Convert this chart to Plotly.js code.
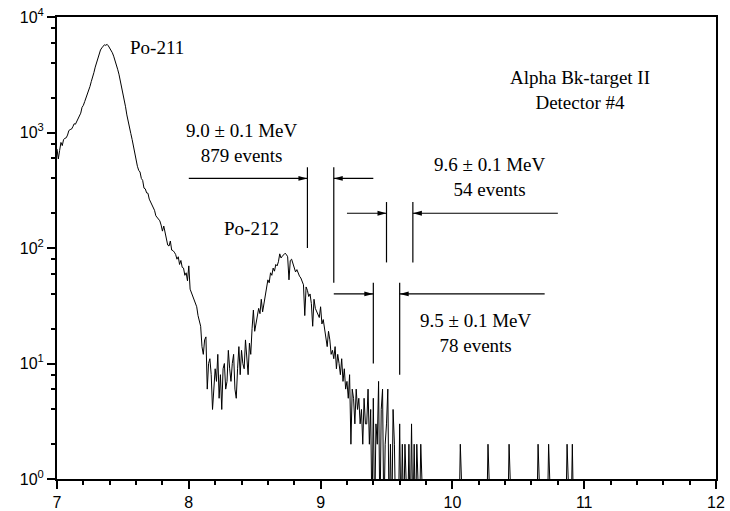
<!DOCTYPE html>
<html>
<head>
<meta charset="utf-8">
<script src="https://cdn.plot.ly/plotly-3.0.1.min.js"></script>
<style>html,body{margin:0;padding:0;background:#fff;}#chart{width:730px;height:511px;}</style>
</head>
<body>
<div id="chart"></div>
<script>
// Histogram: counts per 0.01 MeV bin, first bin at 7.00 MeV
const binStart = 7.00;
const binWidth = 0.01;
const mainCounts = [
  720, 590, 700, 820, 770, 870, 890, 900, 950, 1040,
  1060, 1070, 1120, 1190, 1180, 1250, 1290, 1400, 1470, 1650,
  1720, 1850, 1990, 2120, 2330, 2500, 2760, 2990, 3300, 3680,
  4050, 4430, 4800, 5180, 5400, 5620, 5750, 5680, 5800, 5620,
  5400, 5200, 4900, 4580, 4240, 3900, 3530, 3200, 2840, 2500,
  2180, 1900, 1670, 1420, 1220, 1080, 980, 870, 760, 660,
  560, 510, 470, 455, 400, 385, 330, 325, 300, 298,
  265, 250, 236, 222, 212, 190, 184, 175, 172, 158,
  140, 155, 133, 122, 106, 104, 115, 96, 95, 92,
  88, 80, 84, 72, 78, 68, 67, 58, 61, 52,
  70, 44, 41, 38, 35, 33, 31, 26, 23, 21,
  14, 12, 16, 17, 6, 10, 11, 8, 4, 6,
  9, 7, 12, 5, 8, 4, 9, 10, 6, 7,
  13, 9, 7, 10, 12, 6, 5, 9, 14, 8,
  13, 10, 9, 16, 11, 8, 15, 12, 20, 29,
  19, 22, 25, 30, 27, 36, 28, 33, 40, 45,
  53, 50, 61, 58, 67, 63, 72, 70, 76, 89,
  82, 85, 87, 90, 88, 84, 53, 78, 80, 74,
  70, 62, 65, 60, 57, 55, 50, 48, 26, 46,
  43, 38, 40, 33, 21, 36, 30, 28, 27, 25,
  31, 22, 24, 20, 17, 14, 19, 16, 12, 13,
  11, 14, 9, 12, 10, 8, 11, 7, 9, 6,
  7, 5, 8, 2, 6, 5, 3, 6, 4, 5,
  3, 4, 2, 5, 3, 3, 6, 2, 4, 0,
  5, 0, 3, 2, 7, 0, 4, 6, 0, 2,
  3, 6, 0, 2, 0, 4, 2, 0, 1, 0,
  3, 0, 2, 0, 2, 1, 0, 2, 0, 3,
  0, 2, 0, 2, 0, 0, 2, 0, 0, 0
];
// sparse high-energy events (bin energy in MeV, counts)
const tailEnergies = [10.06, 10.27, 10.43, 10.65, 10.73, 10.87, 10.91];
const tailCounts = [2, 2, 2, 2, 2, 2, 2];
const lastBinEnergy = 11.00;

const xTickVals = [7, 8, 9, 10, 11, 12];
const yTickVals = [1, 10, 100, 1000, 10000];
const yTickText = ['10<sup>0</sup>', '10<sup>1</sup>', '10<sup>2</sup>', '10<sup>3</sup>', '10<sup>4</sup>'];
const yMinorVals = [];
[1, 10, 100, 1000].forEach(d => [2, 4, 6, 8].forEach(m => yMinorVals.push(d * m)));

// assemble full histogram (empty bins are zero)
const nBins = Math.round((lastBinEnergy - binStart) / binWidth) + 1;
const counts = new Array(nBins).fill(0);
mainCounts.forEach((c, i) => counts[i] = c);
tailEnergies.forEach((e, k) => { counts[Math.round((e - binStart) / binWidth)] = tailCounts[k]; });
// zero-count bins drop below the 10^0 floor of the log axis
const displayCounts = counts.map(c => c > 0 ? c : 0.4);

const serif = '"Liberation Serif", "Times New Roman", serif';
const sans = '"Liberation Sans", Arial, sans-serif';

// energy window brackets
const brackets = [
  {left: 8.9, right: 9.1, yTopL: 500, yBotL: 100, yTopR: 500, yBotR: 50, arrowY: 400, fromL: 8.0, fromR: 9.4},
  {left: 9.5, right: 9.7, yTopL: 250, yBotL: 75, yTopR: 250, yBotR: 75, arrowY: 200, fromL: 9.2, fromR: 10.8},
  {left: 9.4, right: 9.6, yTopL: 50, yBotL: 10, yTopR: 50, yBotR: 8, arrowY: 40, fromL: 9.1, fromR: 10.7}
];

const shapes = [];
const lineStyle = {color: '#000', width: 1.2};
brackets.forEach(b => {
  shapes.push({type: 'line', xref: 'x', yref: 'y', x0: b.left, x1: b.left, y0: b.yBotL, y1: b.yTopL, line: lineStyle});
  shapes.push({type: 'line', xref: 'x', yref: 'y', x0: b.right, x1: b.right, y0: b.yBotR, y1: b.yTopR, line: lineStyle});
  shapes.push({type: 'line', xref: 'x', yref: 'y', x0: b.fromL, x1: b.left, y0: b.arrowY, y1: b.arrowY, line: lineStyle});
  shapes.push({type: 'line', xref: 'x', yref: 'y', x0: b.right, x1: b.fromR, y0: b.arrowY, y1: b.arrowY, line: lineStyle});
  shapes.push({type: 'path', xref: 'x', yref: 'y', xsizemode: 'pixel', ysizemode: 'pixel',
    xanchor: b.left, yanchor: b.arrowY, path: 'M0,0 L-9,2.4 L-9,-2.4 Z', fillcolor: '#000', line: {width: 0}});
  shapes.push({type: 'path', xref: 'x', yref: 'y', xsizemode: 'pixel', ysizemode: 'pixel',
    xanchor: b.right, yanchor: b.arrowY, path: 'M0,0 L9,2.4 L9,-2.4 Z', fillcolor: '#000', line: {width: 0}});
});

const txt = (text, x, logy) => ({text, x, y: logy, xref: 'x', yref: 'y', showarrow: false,
  font: {family: serif, size: 19, color: '#000'}, xanchor: 'center', yanchor: 'middle'});
const annotations = [
  txt('Po-211', 7.759, 3.735),
  txt('Po-212', 8.472, 2.167),
  txt('9.0 ± 0.1 MeV<br>879 events', 8.407, 2.913),
  txt('9.6 ± 0.1 MeV<br>54 events', 10.285, 2.615),
  txt('9.5 ± 0.1 MeV<br>78 events', 10.18, 1.265),
  txt('Alpha Bk-target II<br>Detector #4', 10.968, 3.368)
];

const trace = {
  type: 'scatter', mode: 'lines',
  x0: binStart, dx: binWidth, y: displayCounts,
  line: {color: '#000', width: 1},
  hoverinfo: 'skip'
};

const layout = {
  width: 730, height: 511,
  margin: {l: 57, r: 14, t: 17, b: 32},
  paper_bgcolor: '#fff', plot_bgcolor: '#fff',
  showlegend: false,
  xaxis: {
    range: [7, 12], tickmode: 'array', tickvals: xTickVals,
    ticks: 'outside', ticklen: 8, tickwidth: 2, tickcolor: '#000',
    showline: true, linewidth: 2, linecolor: '#000', mirror: true,
    showgrid: false, zeroline: false,
    tickfont: {family: sans, size: 16, color: '#000'},
    minor: {dtick: 0.2, tick0: 7, ticks: 'outside', ticklen: 4, tickwidth: 2, tickcolor: '#000', showgrid: false}
  },
  yaxis: {
    type: 'log', range: [0, 4], tickmode: 'array', tickvals: yTickVals, ticktext: yTickText,
    ticks: 'outside', ticklen: 8, tickwidth: 2, tickcolor: '#000',
    showline: true, linewidth: 2, linecolor: '#000', mirror: true,
    showgrid: false, zeroline: false,
    tickfont: {family: sans, size: 16, color: '#000'},
    minor: {tickmode: 'array', tickvals: yMinorVals, ticks: 'outside', ticklen: 4, tickwidth: 2, tickcolor: '#000', showgrid: false}
  },
  shapes, annotations
};

Plotly.newPlot('chart', [trace], layout, {staticPlot: true, displayModeBar: false});
</script>
</body>
</html>
